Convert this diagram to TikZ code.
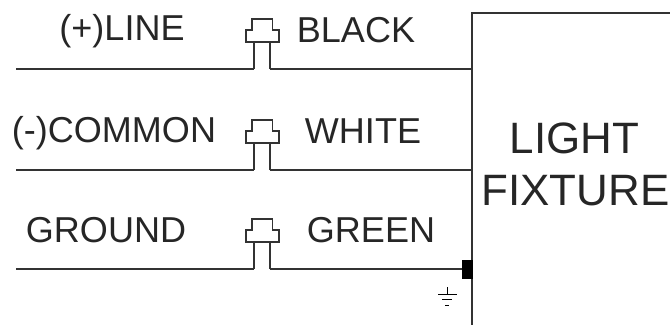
\documentclass[tikz,border=0pt]{standalone}
\usepackage{fontspec}
\setmainfont{Liberation Sans}
\tikzset{
	wire/.style={line width=0.6pt, color=black!80},
	label/.style={inner sep=0pt, font=\fontsize{20.5}{22}\selectfont, color=black!85},
	biglabel/.style={inner sep=0pt, font=\fontsize{25}{27}\selectfont, color=black!85}
}
% one splice: wire y is #1
\def\splice(#1){
	\draw[wire] (254,#1) -- (254,#1-27);
	\draw[wire] (270,#1) -- (270,#1-27);
	\draw[wire] (246,#1-27) -- (246,#1-39) -- (252,#1-39) -- (252,#1-50) -- (272.5,#1-50) -- (272.5,#1-39) -- (279,#1-39) -- (279,#1-27) -- cycle;
}

\begin{document}
\begin{tikzpicture}[x=0.02cm,y=-0.02cm]
	%%%%% START %%%%%
	\useasboundingbox (0,0) rectangle (670,325);

	\coordinate (lineA) at (16,69);
	\coordinate (lineB) at (254,69);
	\coordinate (lineC) at (270,69);
	\coordinate (lineD) at (472,69);
	\coordinate (comA) at (16,170);
	\coordinate (comB) at (254,170);
	\coordinate (comC) at (270,170);
	\coordinate (comD) at (472,170);
	\coordinate (gndA) at (16,269);
	\coordinate (gndB) at (254,269);
	\coordinate (gndC) at (270,269);
	\coordinate (gndD) at (462,269);

	\node[label] (line) at (122,31) {(+)LINE};
	\node[label] (black) at (356,30) {BLACK};
	\node[label] (common) at (114,133) {(-)COMMON};
	\node[label] (white) at (363,131) {WHITE};
	\node[label] (ground) at (106,230) {GROUND};
	\node[label] (green) at (371,230) {GREEN};
	\node[biglabel] (light) at (574.5,138) {LIGHT};
	\node[biglabel] (fixture) at (575.5,191) {FIXTURE};

	\draw[wire] (lineA) -- (lineB);
	\draw[wire] (lineC) -- (lineD);
	\draw[wire] (comA) -- (comB);
	\draw[wire] (comC) -- (comD);
	\draw[wire] (gndA) -- (gndB);
	\draw[wire] (gndC) -- (gndD);

	\splice(69)
	\splice(170)
	\splice(269)

	% fixture box
	\draw[wire] (670,13) -- (472,13) -- (472,325);
	\draw[fill=black] (462,260) rectangle (472,278);

	% earth symbol
	\draw[line width=0.4pt] (447,287) -- (447,294);
	\draw[line width=0.4pt] (438,294) -- (457,294);
	\draw[line width=0.4pt] (442,299) -- (452,299);
	\draw[line width=0.4pt] (445,305) -- (449,305);
	%%%%% END %%%%%
\end{tikzpicture}
\end{document}
